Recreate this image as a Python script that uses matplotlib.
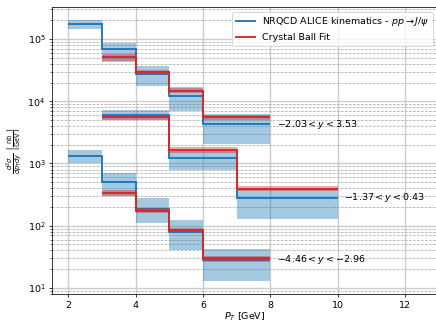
import numpy as np
import matplotlib
matplotlib.use("Agg")
import matplotlib.pyplot as plt

# pT bin edges and cross sections (nb/GeV) for the three rapidity windows
edges_a = [2, 3, 4, 5, 6, 8]
nrqcd_a = [1.74e5, 6.8e4, 2.74e4, 1.21e4, 4.3e3]
nrqcd_a_lo = [1.47e5, 4.3e4, 1.76e4, 7.1e3, 2.06e3]
nrqcd_a_hi = [2.0e5, 8.7e4, 3.7e4, 1.71e4, 6.2e3]
cb_edges_a = [3, 4, 5, 6, 8]
cb_a = [5.1e4, 2.95e4, 1.48e4, 5.5e3]
cb_a_lo = [4.5e4, 2.7e4, 1.35e4, 5.0e3]
cb_a_hi = [5.7e4, 3.2e4, 1.62e4, 6.0e3]

edges_b = [3, 5, 7, 10]
nrqcd_b = [6.0e3, 1.24e3, 279]
nrqcd_b_lo = [5.0e3, 780, 130]
nrqcd_b_hi = [7.2e3, 1.6e3, 390]
cb_edges_b = [3, 5, 7, 10]
cb_b = [5.5e3, 1.65e3, 394]
cb_b_lo = [5.0e3, 1.49e3, 360]
cb_b_hi = [5.8e3, 1.85e3, 430]

edges_c = [2, 3, 4, 5, 6, 8]
nrqcd_c = [1.32e3, 505, 184, 79, 28.2]
nrqcd_c_lo = [1.0e3, 300, 112, 40.7, 12.9]
nrqcd_c_hi = [1.65e3, 697, 279, 124, 41.8]
cb_edges_c = [3, 4, 5, 6, 8]
cb_c = [340, 175, 85.5, 30.3]
cb_c_lo = [300, 160, 78, 26.5]
cb_c_hi = [370, 192, 93, 33]

rap_labels = [r"$-2.03 < y < 3.53$", r"$-1.37 < y < 0.43$", r"$-4.46 < y < -2.96$"]

BLUE = "#1f77b4"
RED = "#d62728"

series = [
    (edges_a, nrqcd_a, nrqcd_a_lo, nrqcd_a_hi, cb_edges_a, cb_a, cb_a_lo, cb_a_hi),
    (edges_b, nrqcd_b, nrqcd_b_lo, nrqcd_b_hi, cb_edges_b, cb_b, cb_b_lo, cb_b_hi),
    (edges_c, nrqcd_c, nrqcd_c_lo, nrqcd_c_hi, cb_edges_c, cb_c, cb_c_lo, cb_c_hi),
]

fig = plt.figure(figsize=(436 / 68, 323 / 68), dpi=68)
ax = fig.add_axes([52 / 436, 29 / 323, 386 / 436, 287 / 323])

for i, (e, v, lo, hi, ce, cv, clo, chi) in enumerate(series):
    ax.stairs(hi, e, baseline=lo, fill=True, color=BLUE, alpha=0.4, lw=0)
    ax.stairs(v, e, baseline=None, color=BLUE, lw=2,
              label=r"NRQCD ALICE kinematics - $pp \to J/\psi$" if i == 0 else None)
    ax.stairs(chi, ce, baseline=clo, fill=True, color=RED, alpha=0.4, lw=0)
    ax.stairs(cv, ce, baseline=None, color=RED, lw=2,
              label="Crystal Ball Fit" if i == 0 else None)
    ax.text(e[-1] + 0.2, v[-1], rap_labels[i], va="center", ha="left")

ax.set_yscale("log")
ax.set_xlim(1.52, 12.98)
ax.set_ylim(8.0, 3.27e5)
ax.set_xticks([2, 4, 6, 8, 10, 12])

ax.grid(True, which="major", color="#cccccc", lw=1.5)
ax.grid(True, which="minor", axis="y", color="#aaaaaa", ls="--", lw=0.8)
ax.set_axisbelow(True)

ax.set_xlabel(r"$P_T$ [GeV]", labelpad=1)
ax.set_ylabel(r"$\frac{d^2\sigma}{dp_T dy}$ $\left[\frac{\rm nb}{\rm GeV}\right]$")
ax.legend(loc="upper right")

fig.savefig("out.png", dpi=68)
